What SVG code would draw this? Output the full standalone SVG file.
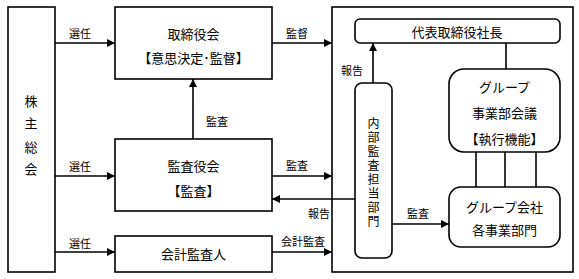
<svg xmlns="http://www.w3.org/2000/svg" width="579" height="279" viewBox="0 0 579 279">
<style>
.box{fill:#fff;stroke:#000;stroke-width:1.6}
.ln{fill:none;stroke:#000;stroke-width:1.6}
.arr{marker-end:url(#ah)}
text{font-family:"Noto Sans CJK JP","Noto Sans CJK SC",sans-serif;fill:#000;text-anchor:middle;dominant-baseline:central}
.t{font-size:13px}
.v{font-size:12px;writing-mode:vertical-rl;letter-spacing:2px}
.l{font-size:11px}
</style>
<defs>
<marker id="ah" viewBox="0 0 10 10" refX="10" refY="5" markerWidth="9" markerHeight="8" markerUnits="userSpaceOnUse" orient="auto">
<path d="M0,0 L10,5 L0,10 Z" fill="#000"/>
</marker>
</defs>
<rect width="579" height="279" fill="#fff"/>
<g id="executive">
<rect class="box" x="332" y="7" width="241" height="265"/>
</g>
<g id="connectors">
<line class="ln arr" x1="55" y1="43" x2="115" y2="43"/>
<line class="ln arr" x1="55" y1="176" x2="115" y2="176"/>
<line class="ln arr" x1="55" y1="252" x2="115" y2="252"/>
<line class="ln arr" x1="272" y1="43" x2="332" y2="43"/>
<line class="ln arr" x1="272" y1="176" x2="332" y2="176"/>
<line class="ln arr" x1="272" y1="252" x2="332" y2="252"/>
<line class="ln arr" x1="193" y1="139" x2="193" y2="79"/>
<line class="ln arr" x1="355" y1="199" x2="272" y2="199"/>
<line class="ln arr" x1="373" y1="83" x2="373" y2="43"/>
<line class="ln arr" x1="392" y1="224" x2="449" y2="224"/>
<line class="ln" x1="506" y1="43" x2="506" y2="69"/>
<line class="ln" x1="476" y1="152" x2="476" y2="187"/>
<line class="ln" x1="505" y1="152" x2="505" y2="187"/>
<line class="ln" x1="536" y1="152" x2="536" y2="187"/>
<text class="l" x="80" y="33">選任</text>
<text class="l" x="80" y="166">選任</text>
<text class="l" x="80" y="243">選任</text>
<text class="l" x="297" y="33">監督</text>
<text class="l" x="217" y="121">監査</text>
<text class="l" x="297" y="165">監査</text>
<text class="l" x="319" y="213">報告</text>
<text class="l" x="303" y="241">会計監査</text>
<text class="l" x="352" y="70">報告</text>
<text class="l" x="418" y="213">監査</text>
</g>
<g id="shareholders">
<rect class="box" x="8" y="7" width="47" height="265"/>
<text class="t" x="31" y="100">株</text>
<text class="t" x="31" y="122">主</text>
<text class="t" x="31" y="146">総</text>
<text class="t" x="31" y="168">会</text>
</g>
<g id="board">
<rect class="box" x="115" y="7" width="157" height="72"/>
<text class="t" x="193.5" y="33">取締役会</text>
<text class="t" x="193.5" y="57">【意思決定･監督】</text>
</g>
<g id="auditboard">
<rect class="box" x="115" y="139" width="157" height="72"/>
<text class="t" x="193.5" y="165">監査役会</text>
<text class="t" x="193.5" y="190">【監査】</text>
</g>
<g id="accountant">
<rect class="box" x="115" y="236" width="157" height="36"/>
<text class="t" x="193.5" y="253">会計監査人</text>
</g>
<g id="president">
<rect class="box" x="355" y="19" width="205" height="24" rx="5"/>
<text class="t" x="457" y="31">代表取締役社長</text>
</g>
<g id="internalaudit">
<rect class="box" x="355" y="83" width="37" height="175" rx="7"/>
<text class="v" x="373.5" y="173">内部監査担当部門</text>
</g>
<g id="groupmeeting">
<rect class="box" x="449" y="69" width="111" height="83" rx="15"/>
<text class="t" x="504.5" y="86">グループ</text>
<text class="t" x="504.5" y="112">事業部会議</text>
<text class="t" x="504.5" y="138">【執行機能】</text>
</g>
<g id="groupcompanies">
<rect class="box" x="449" y="187" width="111" height="60" rx="12"/>
<text class="t" x="504.5" y="206">グループ会社</text>
<text class="t" x="504.5" y="229">各事業部門</text>
</g>
</svg>
